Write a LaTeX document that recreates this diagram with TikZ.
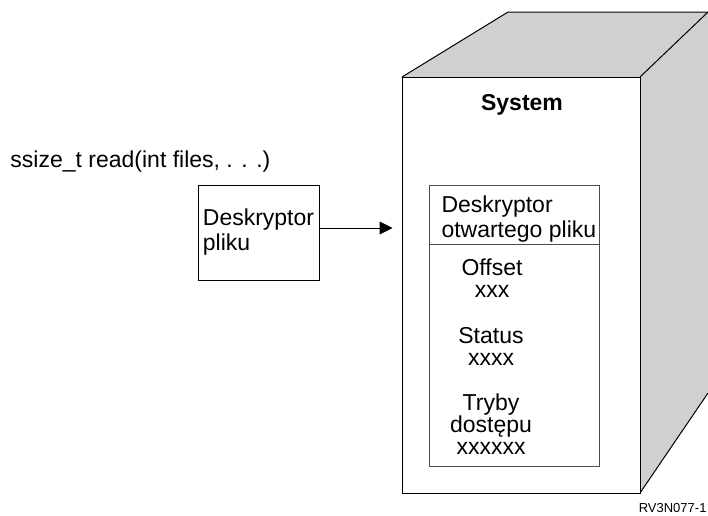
\documentclass[tikz,border=0pt]{standalone}
\usepackage{fontspec}
\setmainfont{Liberation Sans}
\usetikzlibrary{arrows.meta}
\definecolor{cubegray}{RGB}{208,208,208}

\begin{document}
\begin{tikzpicture}[x=0.5pt,y=-0.5pt,line width=0.5pt,font=\fontsize{11.5}{12.5}\selectfont]
\tikzstyle{box}=[draw,fill=white,inner sep=0pt]
\tikzstyle{field}=[align=center,inner sep=0pt,anchor=north,font=\fontsize{11.5}{11}\selectfont]
\useasboundingbox (0,0) rectangle (708,515);
% the system cube
\fill[cubegray] (402,77) -- (508,12) -- (708,12) -- (708,393) -- (640,493) -- (640,77) -- cycle;
\draw (402,77) -- (508,12) -- (708,12);
\draw (640,77) -- (708,12);
\draw (640,493) -- (708,393);
\node[box,minimum width=119pt,minimum height=208pt] (front) at (521,285) {};
\node[anchor=base,inner sep=0pt,font=\fontsize{11.5}{12.5}\selectfont\bfseries] (sys) at (522,110) {System};
% open file description
\node[box,draw=black!70,minimum width=85pt,minimum height=140.5pt] (ofd) at (514,325.5) {};
\draw[black!70] ([yshift=-30pt]ofd.north west) -- ([yshift=-30pt]ofd.north east);
\node[align=left,inner sep=0pt,anchor=north west] (ofdname) at (441,195) {Deskryptor\\otwartego pliku};
\node[field] (offset) at (492,258) {Offset\\xxx};
\node[field] (status) at (491,327) {Status\\xxxx};
\node[field] (modes) at (491,393) {Tryby\\dostępu\\xxxxxx};
% caller side
\node[anchor=base west,inner sep=0pt] (call) at (10,167) {ssize\_t read(int files, . . .)};
\node[box,align=left,minimum width=60.5pt,minimum height=47.5pt] (fd) at (258.5,232.5) {Deskryptor\\pliku};
\draw[-{Triangle[length=6.5pt,width=6.5pt]}] ([yshift=2.25pt]fd.east) -- ([xshift=-4.5pt,yshift=2.25pt]fd.east -| front.west);
\node[anchor=south east,inner sep=0.5pt,font=\fontsize{6.5}{7}\selectfont] (fig) at (708,514) {RV3N077-1};
\end{tikzpicture}
\end{document}
